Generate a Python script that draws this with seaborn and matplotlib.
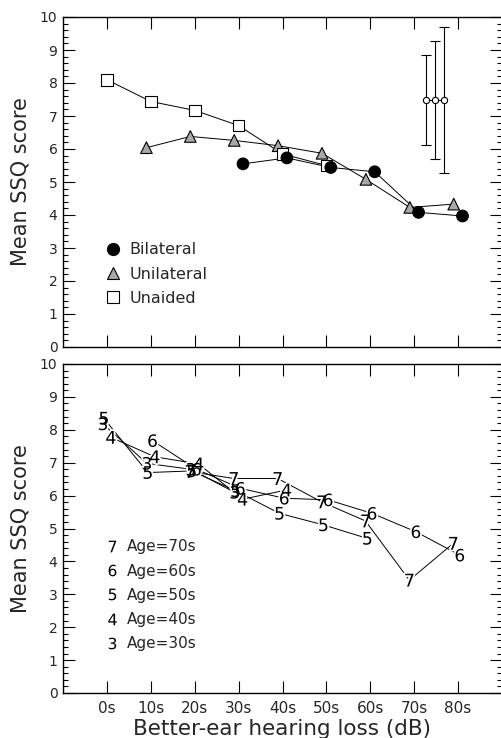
import numpy as np
import pandas as pd
import matplotlib
matplotlib.use("Agg")
import matplotlib.pyplot as plt
from matplotlib.lines import Line2D
from matplotlib.ticker import MultipleLocator
import seaborn as sns

# data ---------------------------------------------------------------------------
# top panel: mean SSQ score by better-ear loss, per hearing-aid group
bil_x = [31, 41, 51, 61, 71, 81]
bil_y = [5.55, 5.73, 5.44, 5.31, 4.08, 3.97]
uni_x = [9, 19, 29, 39, 49, 59, 69, 79]
uni_y = [6.04, 6.38, 6.26, 6.10, 5.87, 5.08, 4.23, 4.33]
una_x = [0, 10, 20, 30, 40, 50]
una_y = [8.10, 7.44, 7.17, 6.71, 5.85, 5.50]

# error bars (typical SD) drawn in the corner
err_x = [72.7, 74.8, 76.8]
err_y = [7.49, 7.49, 7.49]
err_sd = [1.37, 1.79, 2.22]

# bottom panel: one series per age decade
age7_x = [20, 30, 40, 50, 60, 70, 80]
age7_y = [6.73, 6.52, 6.52, 5.81, 5.23, 3.43, 4.55]
age6_x = [10, 20, 30, 40, 50, 60, 70, 80]
age6_y = [7.67, 6.80, 6.22, 5.92, 5.87, 5.46, 4.90, 4.19]
age5_x = [0, 10, 20, 30, 40, 50, 60]
age5_y = [8.35, 6.70, 6.75, 6.15, 5.46, 5.11, 4.70]
age4_x = [0, 10, 20, 30, 40]
age4_y = [7.77, 7.18, 6.96, 5.89, 6.17]
age3_x = [0, 10, 20, 30]
age3_y = [8.18, 6.98, 6.80, 6.10]

x_ticks = [0, 10, 20, 30, 40, 50, 60, 70, 80]
x_ticklabels = ["0s", "10s", "20s", "30s", "40s", "50s", "60s", "70s", "80s"]
age_labels = ["7", "6", "5", "4", "3"]
age_names = ["Age=70s", "Age=60s", "Age=50s", "Age=40s", "Age=30s"]

# small horizontal dodge so overlapping digits stay readable
age_dodge = {"7": -1.1, "6": 0.4, "5": -0.7, "4": 0.9, "3": -0.9}

# build frames -------------------------------------------------------------------
# row order = drawing order (triangles, then squares, then dots on top)
df_top = pd.concat([
    pd.DataFrame({"x": uni_x, "score": uni_y, "group": "Unilateral"}),
    pd.DataFrame({"x": una_x, "score": una_y, "group": "Unaided"}),
    pd.DataFrame({"x": bil_x, "score": bil_y, "group": "Bilateral"}),
], ignore_index=True)

age_series = {"7": (age7_x, age7_y), "6": (age6_x, age6_y), "5": (age5_x, age5_y),
              "4": (age4_x, age4_y), "3": (age3_x, age3_y)}
df_age = pd.concat([
    pd.DataFrame({"x": np.array(xs) + age_dodge[a], "score": ys, "age": a})
    for a, (xs, ys) in age_series.items()
], ignore_index=True)

# style --------------------------------------------------------------------------
sns.set_style("ticks")
plt.rcParams["font.family"] = ["DejaVu Sans"]
plt.rcParams["mathtext.fontset"] = "dejavusans"

fig = plt.figure(figsize=(5.02, 7.38), dpi=100)
ax1 = fig.add_axes([63 / 502, 1 - 347 / 738, 439 / 502, 330 / 738])
ax2 = fig.add_axes([63 / 502, 1 - 693 / 738, 439 / 502, 329 / 738])


def style_axis(ax):
    ax.set_xlim(-10, 90)
    ax.set_ylim(0, 10)
    ax.set_xticks(x_ticks)
    ax.yaxis.set_major_locator(MultipleLocator(1))
    ax.yaxis.set_minor_locator(MultipleLocator(0.2))
    ax.tick_params(axis="both", which="both", direction="in", top=True, right=True,
                   width=0.8, color="black")
    ax.tick_params(axis="both", which="major", length=8.5, labelsize=10, pad=4)
    ax.tick_params(axis="y", which="minor", length=3.6)
    ax.tick_params(axis="x", which="minor", bottom=False, top=False)
    for s in ax.spines.values():
        s.set_linewidth(1.0)
        s.set_color("black")
    ax.set_ylabel("Mean SSQ score", fontsize=15, labelpad=7)


# top panel ----------------------------------------------------------------------
sns.lineplot(data=df_top, x="x", y="score", units="group", estimator=None, sort=False,
             color="black", linewidth=0.7, ax=ax1)
sns.scatterplot(data=df_top, x="x", y="score", hue="group", style="group",
                palette={"Bilateral": "black", "Unilateral": "#a8a8a8", "Unaided": "white"},
                markers={"Bilateral": "o", "Unilateral": "^", "Unaided": "s"},
                s=70, edgecolor="black", linewidth=0.8, legend=False, zorder=3, ax=ax1)
ax1.errorbar(err_x, err_y, yerr=err_sd, fmt="-o", color="black", mfc="white", mec="black",
             ms=4.5, mew=0.8, lw=0.7, capsize=3.5, capthick=0.8, elinewidth=0.8, zorder=3)

handles = [
    Line2D([], [], ls="", marker="o", ms=8.5, mfc="black", mec="black"),
    Line2D([], [], ls="", marker="^", ms=8.5, mfc="#a8a8a8", mec="black", mew=0.8),
    Line2D([], [], ls="", marker="s", ms=8, mfc="white", mec="black", mew=0.8),
]
ax1.legend(handles, ["Bilateral", "Unilateral", "Unaided"], loc="upper left",
           bbox_to_anchor=(0.077, 0.342), frameon=False, fontsize=11.5, borderpad=0,
           handlelength=1.0, handletextpad=0.55, labelspacing=0.59)
style_axis(ax1)
ax1.set_xlabel("")
ax1.tick_params(axis="x", labelbottom=False)

# bottom panel -------------------------------------------------------------------
sns.lineplot(data=df_age, x="x", y="score", units="age", estimator=None, sort=False,
             color="black", linewidth=0.7, ax=ax2)
digit_markers = {a: "$" + a + "$" for a in age_labels}
# white halo first so the lines break around each digit
sns.scatterplot(data=df_age, x="x", y="score", style="age", markers=digit_markers,
                color="white", edgecolor="white", linewidth=2.5, s=85, legend=False,
                zorder=3, ax=ax2)
sns.scatterplot(data=df_age, x="x", y="score", style="age", markers=digit_markers,
                color="black", linewidth=0, s=85, legend=False, zorder=4, ax=ax2)

age_handles = [Line2D([], [], ls="", marker="$" + a + "$", ms=8.4, color="black", mew=0)
               for a in age_labels]
ax2.legend(age_handles, age_names, loc="upper left", bbox_to_anchor=(0.077, 0.49),
           frameon=False, fontsize=11, borderpad=0, handlelength=1.0,
           handletextpad=0.45, labelspacing=0.6)
style_axis(ax2)
ax2.set_xticklabels(x_ticklabels)
ax2.tick_params(axis="x", labelsize=11, pad=6)
ax2.set_xlabel("Better-ear hearing loss (dB)", fontsize=15.5, labelpad=2)

fig.savefig("out.png", dpi=100)
